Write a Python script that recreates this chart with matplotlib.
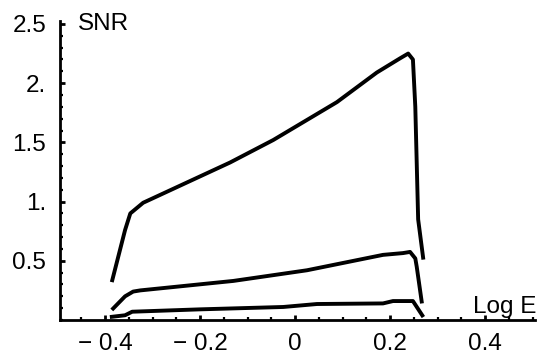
import numpy as np
import matplotlib.pyplot as plt
from matplotlib.ticker import MultipleLocator

plt.rcParams["font.family"] = ["Liberation Sans", "DejaVu Sans"]

# upper curve
top_x = [-0.386, -0.358, -0.347, -0.32, -0.137, -0.046, 0.088, 0.172, 0.221,
         0.238, 0.248, 0.253, 0.259, 0.27]
top_y = [0.32, 0.76, 0.90, 0.99, 1.33, 1.52, 1.84, 2.09, 2.21,
         2.25, 2.20, 1.80, 0.85, 0.51]

# middle curve
mid_x = [-0.386, -0.358, -0.341, -0.326, -0.13, 0.025, 0.185, 0.227,
         0.242, 0.253, 0.256, 0.267]
mid_y = [0.085, 0.20, 0.24, 0.25, 0.33, 0.42, 0.55, 0.565,
         0.575, 0.52, 0.45, 0.14]

# lower curve
low_x = [-0.39, -0.358, -0.343, -0.2, -0.025, 0.046, 0.185, 0.206,
         0.248, 0.27]
low_y = [0.025, 0.04, 0.07, 0.09, 0.11, 0.135, 0.14, 0.16,
         0.16, 0.025]

x_ticks = [-0.4, -0.2, 0, 0.2, 0.4]
x_labels = ["\u2212 0.4", "\u2212 0.2", "0", "0.2", "0.4"]
y_ticks = [0.5, 1.0, 1.5, 2.0, 2.5]
y_labels = ["0.5", "1.", "1.5", "2.", "2.5"]

W, H = 545, 354
fig = plt.figure(figsize=(W / 100, H / 100), dpi=100)
ax = fig.add_axes([60 / W, 34 / H, 475 / W, 299 / H])

for xs, ys in [(top_x, top_y), (mid_x, mid_y), (low_x, low_y)]:
    ax.plot(xs, ys, color="black", lw=2.8, solid_joinstyle="round",
            solid_capstyle="butt", clip_on=False)

ax.set_xlim(-0.495, 0.505)
ax.set_ylim(0, 2.525)

for s in ["top", "right"]:
    ax.spines[s].set_visible(False)
for s in ["left", "bottom"]:
    ax.spines[s].set_linewidth(2.0)

ax.set_xticks(x_ticks)
ax.set_xticklabels(x_labels)
ax.set_yticks(y_ticks)
ax.set_yticklabels(y_labels)
ax.xaxis.set_minor_locator(MultipleLocator(0.05))
ax.yaxis.set_minor_locator(MultipleLocator(0.1))

ax.tick_params(which="major", direction="in", length=3.5, width=2.0,
               labelsize=17.5)
ax.tick_params(which="minor", direction="in", length=2.0, width=1.6)
ax.tick_params(axis="x", which="major", pad=9)
ax.tick_params(axis="y", which="major", pad=10)

ax.text(-0.457, 2.50, "SNR", fontsize=17.5, va="center", ha="left")
ax.text(0.375, 0.062, "Log E", fontsize=17.5, va="baseline", ha="left")

fig.savefig("out.png", dpi=100)
